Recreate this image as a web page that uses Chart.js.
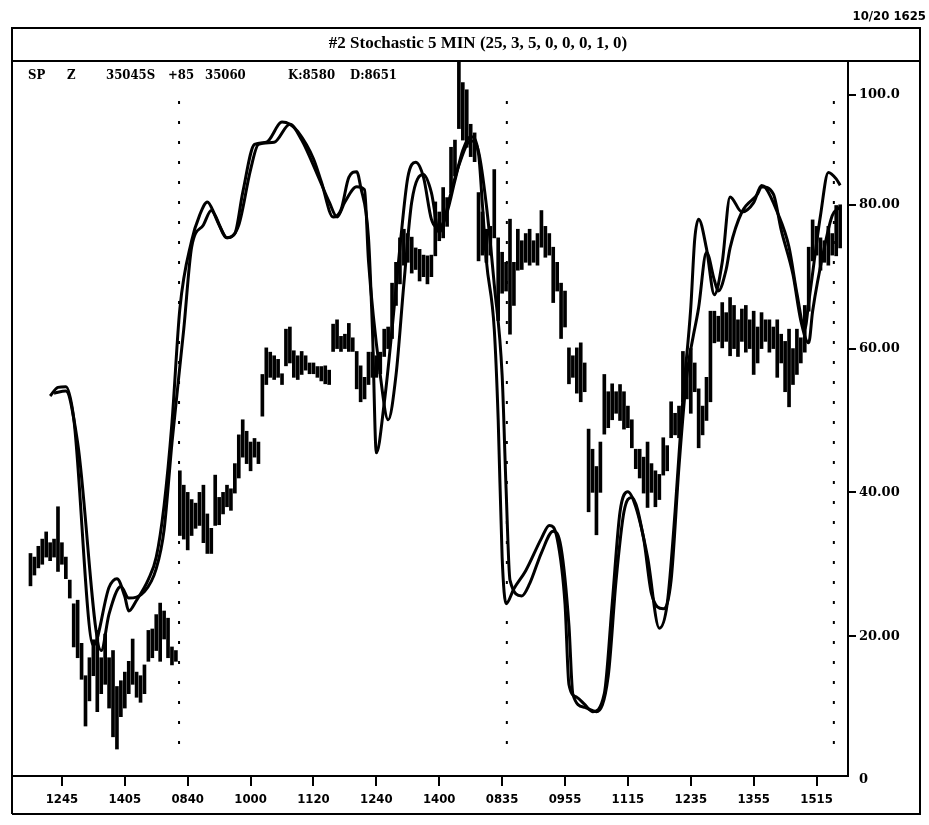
<!DOCTYPE html>
<html>
<head>
<meta charset="utf-8">
<script src="https://cdn.jsdelivr.net/npm/chart.js@4.4.0/dist/chart.umd.min.js"></script>
<style>
  html, body { margin: 0; padding: 0; background: #fff; }
  canvas { display: block; }
</style>
</head>
<body>
<canvas id="myChart" width="929" height="825"></canvas>
<script>
// bar index of the labelled times (one bar = 5 min)
var xTickIndex = [8, 24, 40, 56, 72, 88, 104, 120, 136, 152, 168, 184, 200];
var xTickLabels = ['1245', '1405', '0840', '1000', '1120', '1240', '1400', '0835', '0955', '1115', '1235', '1355', '1515'];

var yTickValues = [0, 20, 40, 60, 80, 95.3];
var yTickLabels = ['0', '20.00', '40.00', '60.00', '80.00', '100.0'];

// session breaks (between bar indexes)
var sessionBreaks = [37.8, 121.2, 204.4];

// price bars, scaled into the stochastic window
var priceLow = [
  27, 28.5, 29.5, 30, 31, 30.5, 31, 29, 30, 28, 25.3, 18.5, 17, 14, 7.5, 11, 14.5, 9.5, 12, 13.3,
  10, 6, 4.3, 8.8, 10, 12, 13.3, 11.5, 10.8, 12, 16.5, 17, 18, 16.5, 19.6, 17, 16, 16.5,
  34, 33.5, 32, 34, 35, 35.4, 33, 31.5, 31.5, 35.4, 35.5, 37, 38, 37.5, 39.9, 42, 44.9, 44, 43, 44.9,
  44, 50.6, 55, 56, 55.7, 56, 55, 57.6, 58, 56, 55.7, 56.4, 57, 56.5, 56.5, 56, 55.5, 55.1, 55,
  59.6, 60, 59.6, 60, 59.6, 59.6, 54.4, 52.6, 53, 55, 56, 56, 56.5, 58.9, 60, 61.4, 66, 69, 71.6, 72,
  70.5, 71, 69.4, 70, 69, 70, 72.9, 75, 75.4, 77, 81.7, 84, 90.6, 89, 88, 86.7, 86,
  72.2, 73, 72, 73, 75.4, 63.9, 67.7, 68, 62, 66, 70.9, 71, 72, 71.6, 72, 71.6, 74.1, 72.7, 73, 66.4,
  68, 61.4, 63, 55.1, 56, 53.8, 52.6, 54, 37.3, 40, 34.1, 40, 48.1, 49, 50.1, 51, 50,
  48.8, 49, 46.2, 43.3, 42, 39.9, 37.9, 40, 38, 39, 42.4, 43, 47.6, 48, 47.6, 52.6, 53, 51, 54, 46.2,
  48, 50, 52.6, 60.8, 61, 60.1, 61, 59, 60, 58.9, 61, 59.5, 60, 56.4, 58, 60, 61, 59.5, 60, 56,
  58, 54, 51.9, 55, 56.4, 58, 59.5, 65.2, 72.2, 73, 70.9, 72, 71.6, 73, 72.9, 74
];
var priceHigh = [
  31.5, 31, 32.5, 33.5, 34.5, 33, 33.5, 38, 33, 31, 27.8, 24.5, 25, 19, 14.5, 17, 19.5, 20.8, 17, 20.3,
  17, 18, 13, 13.8, 15, 16.5, 19.6, 15, 14.5, 16, 20.8, 21, 23, 24.6, 23.5, 22.5, 18.5, 18,
  43, 41, 40, 39, 38.5, 40, 41, 37, 35, 42.4, 39.3, 40, 41, 40.5, 44, 48, 50.1, 48.5, 47, 47.5,
  47, 56.4, 60.1, 59.5, 59, 58.5, 56.5, 62.7, 63, 59.7, 59, 59.6, 59, 58, 58, 57.5, 57.5, 57.6, 57,
  63.4, 64, 61.7, 62, 63.5, 61.5, 59.6, 57.6, 56, 59.5, 59.5, 59, 59.5, 62.7, 63, 69.1, 72, 75.4, 76.6, 76,
  75.5, 74, 73.8, 73, 72.9, 73, 80.4, 79, 82.4, 81, 88, 89, 100, 97, 96, 91.2, 90,
  81.7, 79, 76.6, 77, 84.9, 75.4, 73.4, 72, 78, 72, 76.6, 75, 76, 76.6, 75, 76, 79.2, 77, 76, 74.1,
  72, 69.1, 68, 60.1, 59, 60.1, 60.8, 58, 48.8, 46, 43.6, 47, 56.4, 54, 55.1, 54, 55,
  54, 52, 50.1, 46, 46, 44.9, 47, 44, 43, 42.5, 47.6, 46.5, 52.6, 51, 52, 59.6, 58, 60, 58, 54.4,
  52, 56, 65.2, 65.2, 64.5, 66.4, 65, 67.1, 66, 64, 65.5, 66, 64, 65.2, 63, 65, 64, 64, 63, 64,
  62, 61, 62.7, 60, 62.7, 61.5, 66, 74.1, 77.9, 77, 75.4, 75, 77, 76, 79.9, 80
];

// %K (fast line)
var kIdx = [5, 7, 9, 11, 16, 20, 22, 24, 25, 27, 30, 32, 34, 36, 38, 41, 43, 45, 47, 50,
  52, 54, 57, 60, 64, 66, 68, 72, 74, 77, 79, 81, 83, 84, 86, 87, 88, 90, 92, 94,
  96, 98, 100, 102, 104, 106, 108, 110, 112, 114, 115, 116, 118, 119, 120, 121, 123, 126, 130, 132,
  134, 136, 137, 139, 141, 143, 146, 148, 150, 152, 154, 157, 160, 162, 164, 166, 168, 169, 170, 172,
  174, 176, 178, 181, 184, 186, 187, 190, 193, 195, 197, 198, 201, 203, 205, 206];
var kVal = [53.4, 54.6, 54.7, 50.3, 18.7, 26.8, 28.0, 25.5, 23.5, 25.0, 27.9, 31.0, 38.2, 49.7, 65.5, 75.0, 78.5, 80.4, 78.5, 75.4,
  76.0, 81.7, 88.4, 88.7, 91.5, 91.2, 90.2, 86.4, 83.2, 78.3, 79.3, 83.8, 84.6, 82.5, 75.4, 62.7, 45.5, 52.4, 62.7, 74.1,
  83.8, 85.9, 83.8, 78.0, 76.8, 79.0, 83.4, 87.6, 89.5, 87.1, 79.9, 72.2, 62.7, 50.1, 31.0, 24.5, 26.6, 29.1, 33.6, 35.4,
  33.6, 24.5, 13.3, 11.5, 10.5, 9.5, 12.0, 24.5, 37.3, 40.1, 38.0, 31.0, 21.1, 24.5, 37.3, 53.1, 65.7, 75.2, 78.0, 73.9,
  67.5, 72.0, 81.1, 79.0, 80.3, 82.7, 82.4, 79.0, 74.1, 67.7, 62.7, 66.4, 78.5, 84.5, 83.6, 82.7];

// %D (slow line)
var dIdx = [6, 9, 12, 18, 20, 23, 25, 29, 32, 34, 36, 39, 41, 44, 46, 48, 50, 53, 56, 58,
  62, 66, 69, 73, 76, 78, 80, 83, 85, 86, 89, 91, 93, 95, 97, 100, 102, 104, 105, 107,
  109, 112, 114, 116, 118, 120, 121, 122, 125, 127, 130, 133, 135, 137, 138, 141, 144, 147, 149, 151,
  153, 156, 158, 161, 163, 165, 167, 170, 172, 174, 175, 177, 178, 181, 185, 186, 189, 191, 194, 196,
  198, 199, 202, 204, 206];
var dVal = [53.8, 54.1, 46.9, 18.0, 23.1, 26.9, 25.3, 26.2, 29.4, 34.8, 46.9, 62.7, 74.1, 77.2, 79.2, 77.2, 75.4, 77.2, 84.9, 88.4,
  88.7, 91.2, 89.0, 84.2, 80.4, 78.3, 80.4, 82.5, 82.1, 72.2, 56.3, 50.1, 56.3, 69.0, 80.4, 84.2, 81.7, 76.1, 77.3, 81.7,
  85.5, 88.9, 87.4, 79.9, 68.9, 56.3, 40.6, 27.8, 25.6, 27.3, 31.6, 34.6, 32.3, 21.5, 11.9, 10.1, 9.5, 14.5, 27.8, 37.3,
  39.3, 33.6, 25.9, 23.8, 27.8, 43.6, 56.3, 65.7, 73.4, 69.5, 68.0, 71.0, 74.0, 79.0, 81.5, 82.5, 81.5, 76.5, 70.3, 63.9,
  60.8, 65.2, 74.1, 78.5, 79.7];

var headerText = [
  ['SP', 28], ['Z', 67], ['35045S', 106], ['+85', 168], ['35060', 205], ['K:8580', 288], ['D:8651', 350]
];

var bars = priceHigh.map(function (h, i) { return { x: i, y: [priceLow[i], h] }; });
var kLine = kIdx.map(function (x, i) { return { x: x, y: kVal[i] }; });
var dLine = dIdx.map(function (x, i) { return { x: x, y: dVal[i] }; });

var framePlugin = {
  id: 'frame',
  beforeDatasetsDraw: function (chart) {
    var ctx = chart.ctx, xs = chart.scales.x, area = chart.chartArea;
    ctx.save();
    ctx.strokeStyle = '#000';
    ctx.lineWidth = 2;
    ctx.setLineDash([3, 17]);
    sessionBreaks.forEach(function (b) {
      var px = xs.getPixelForValue(b);
      ctx.beginPath();
      ctx.moveTo(px, area.top + 40);
      ctx.lineTo(px, area.bottom - 22);
      ctx.stroke();
    });
    ctx.restore();
  },
  afterDraw: function (chart) {
    var ctx = chart.ctx;
    ctx.save();
    ctx.strokeStyle = '#000';
    ctx.lineWidth = 2;
    ctx.beginPath();
    ctx.moveTo(12, 814); ctx.lineTo(12, 28); ctx.lineTo(920, 28); ctx.lineTo(920, 814); ctx.lineTo(12, 814);
    ctx.moveTo(12, 61); ctx.lineTo(920, 61);
    ctx.stroke();

    ctx.fillStyle = '#000';
    ctx.textBaseline = 'middle';
    ctx.textAlign = 'right';
    ctx.font = 'bold 13px "Liberation Sans Narrow", "DejaVu Sans Condensed", sans-serif';
    ctx.fillText('10/20 1625', 926, 17);

    ctx.textAlign = 'center';
    ctx.font = 'bold 17px "Liberation Serif", serif';
    ctx.fillText('#2 Stochastic 5 MIN (25, 3, 5, 0, 0, 0, 1, 0)', 478, 44);

    ctx.textAlign = 'left';
    ctx.font = 'bold 13px "DejaVu Serif Condensed", "DejaVu Serif", serif';
    headerText.forEach(function (t) { ctx.fillText(t[0], t[1], 76); });
    ctx.restore();
  }
};

var ctx = document.getElementById('myChart').getContext('2d');
var chart = new Chart(ctx, {
  type: 'bar',
  data: {
    datasets: [
      {
        type: 'line', label: 'K', data: kLine,
        borderColor: '#000', borderWidth: 3, pointRadius: 0,
        cubicInterpolationMode: 'monotone'
      },
      {
        type: 'line', label: 'D', data: dLine,
        borderColor: '#000', borderWidth: 3, pointRadius: 0,
        cubicInterpolationMode: 'monotone'
      },
      {
        type: 'bar', label: 'Price', data: bars,
        backgroundColor: '#000', barThickness: 3
      }
    ]
  },
  options: {
    responsive: false,
    animation: false,
    devicePixelRatio: 1,
    layout: { padding: { left: 12, top: 61, right: 9, bottom: 13 } },
    plugins: { legend: { display: false }, tooltip: { enabled: false } },
    scales: {
      x: {
        type: 'linear', min: -4.7, max: 208, offset: false,
        grid: { display: true, drawOnChartArea: false, offset: false, color: '#000', lineWidth: 2, tickLength: 10 },
        border: { display: true, color: '#000', width: 2 },
        afterBuildTicks: function (scale) {
          scale.ticks = xTickIndex.map(function (v) { return { value: v }; });
        },
        afterFit: function (scale) { scale.height = 36; },
        ticks: {
          autoSkip: false, maxRotation: 0, padding: 6, color: '#000',
          font: { family: '"DejaVu Sans Condensed", "DejaVu Sans", sans-serif', size: 13, weight: 'bold' },
          callback: function (value, index) { return xTickLabels[index]; }
        }
      },
      y: {
        position: 'right', min: 0.55, max: 100,
        grid: {
          display: true, drawOnChartArea: false, lineWidth: 2, tickLength: 8,
          color: function (c) { return c.tick && c.tick.value === 0 ? 'rgba(0,0,0,0)' : '#000'; }
        },
        border: { display: true, color: '#000', width: 2 },
        afterBuildTicks: function (scale) {
          scale.ticks = yTickValues.map(function (v) { return { value: v }; });
        },
        afterFit: function (scale) { scale.width = 72; },
        ticks: {
          padding: 3, color: '#000', autoSkip: false,
          font: { family: '"DejaVu Serif", serif', size: 13, weight: 'bold' },
          callback: function (value, index) { return yTickLabels[index]; }
        }
      }
    }
  },
  plugins: [framePlugin]
});
</script>
</body>
</html>
